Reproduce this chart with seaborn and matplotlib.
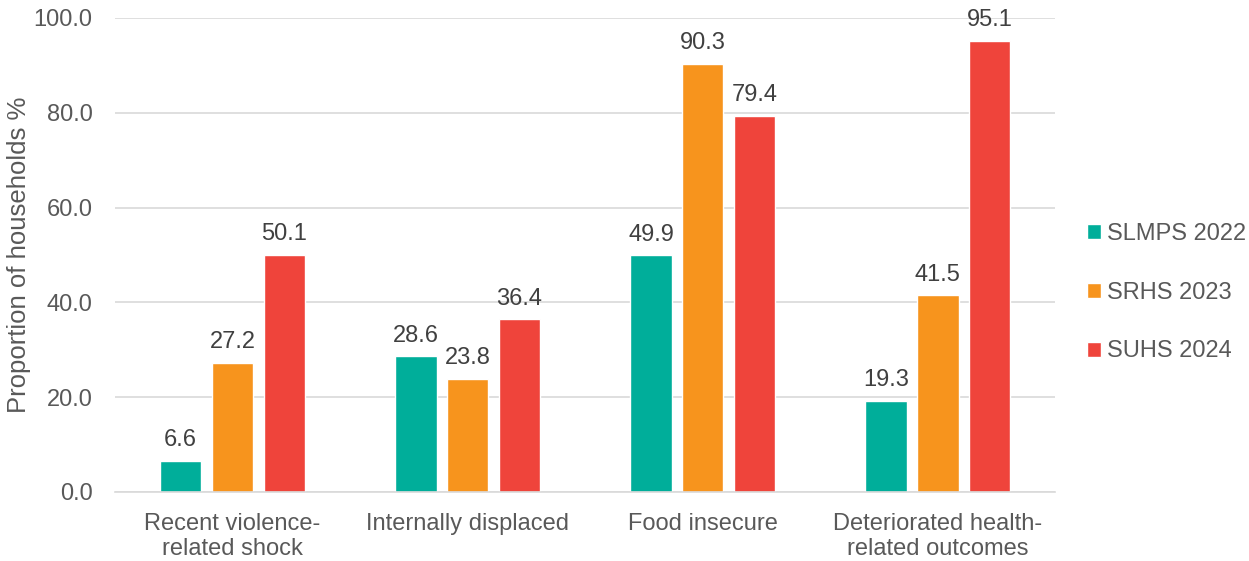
import numpy as np
import pandas as pd
import seaborn as sns
import matplotlib.pyplot as plt

# data
categories = ['Recent violence-\nrelated shock', 'Internally displaced',
              'Food insecure', 'Deteriorated health-\nrelated outcomes']
surveys = ['SLMPS 2022', 'SRHS 2023', 'SUHS 2024']
slmps_2022 = [6.6, 28.6, 49.9, 19.3]
srhs_2023 = [27.2, 23.8, 90.3, 41.5]
suhs_2024 = [50.1, 36.4, 79.4, 95.1]
colors = ['#00AE9A', '#F7941D', '#EF443B']

df = pd.DataFrame({
    'Category': categories * 3,
    'Survey': [s for s in surveys for _ in categories],
    'Value': slmps_2022 + srhs_2023 + suhs_2024,
})

sns.set_style('white')
plt.rcParams['font.family'] = ['Liberation Sans', 'DejaVu Sans']
txt = '#595959'
fs = 17

fig = plt.figure(figsize=(12.49, 5.61), dpi=100)
ax = fig.add_axes([0.092, 0.123, 0.753, 0.845])
sns.barplot(data=df, x='Category', y='Value', hue='Survey', palette=colors,
            width=0.66, gap=0.2, ax=ax, saturation=1)

for c in ax.containers:
    ax.bar_label(c, fmt='%.1f', padding=7, fontsize=fs, color='#404040')

ax.set_ylim(0, 100)
ax.set_xlim(-0.5, 3.5)
ax.set_yticks(np.arange(0, 101, 20))
ax.set_yticklabels([f'{v:.1f}' for v in np.arange(0, 101, 20)])
ax.yaxis.grid(True, color='#D9D9D9', linewidth=1.2)
ax.set_axisbelow(True)
for s in ['top', 'right', 'left']:
    ax.spines[s].set_visible(False)
ax.spines['bottom'].set_color('#D9D9D9')
ax.spines['bottom'].set_linewidth(1.2)
ax.tick_params(axis='y', length=0, labelsize=fs, labelcolor=txt, pad=16)
ax.tick_params(axis='x', length=0, labelsize=fs, labelcolor=txt, pad=15)
for lab in ax.get_xticklabels():
    lab.set_linespacing(1.2)
ax.set_xlabel('')
ax.set_ylabel('Proportion of households %', fontsize=18.5, color=txt, labelpad=2)

ax.legend(title=None, frameon=False, loc='center left', bbox_to_anchor=(1.011, 0.42),
          fontsize=fs, labelcolor=txt, handlelength=0.6, handleheight=0.6,
          handletextpad=0.25, labelspacing=1.55)

plt.savefig('out.png', dpi=100)
